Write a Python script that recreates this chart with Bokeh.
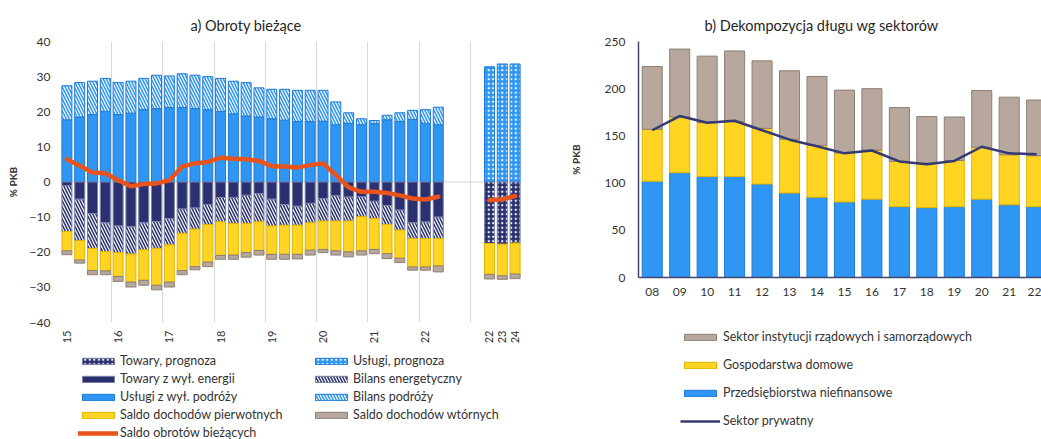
import numpy as np
from bokeh.plotting import figure
from bokeh.models import Legend, LegendItem, FixedTicker, Span, Range1d
from bokeh.layouts import row, column
from bokeh.embed import file_html
from bokeh.resources import INLINE

FONT = "Lato"
TXT = "#333333"

# ---------------- data: panel a) ----------------
quarters = ["2015Q1", "2015Q2", "2015Q3", "2015Q4", "2016Q1", "2016Q2", "2016Q3", "2016Q4",
            "2017Q1", "2017Q2", "2017Q3", "2017Q4", "2018Q1", "2018Q2", "2018Q3", "2018Q4",
            "2019Q1", "2019Q2", "2019Q3", "2019Q4", "2020Q1", "2020Q2", "2020Q3", "2020Q4",
            "2021Q1", "2021Q2", "2021Q3", "2021Q4", "2022Q1", "2022Q2"]
forecast_years = ["22", "23", "24"]

uslugi = [17.7, 18.5, 19.2, 20.1, 19.2, 19.6, 20.6, 20.9, 21.2, 21.2, 20.9, 20.6, 20.1, 19.4, 18.8,
          18.5, 18.0, 17.6, 17.2, 17.2, 17.3, 16.3, 16.7, 16.3, 16.6, 17.7, 17.2, 17.8, 16.7, 16.3]
bilans_podrozy = [9.7, 9.8, 9.5, 9.4, 9.1, 9.1, 8.9, 9.5, 9.0, 9.6, 9.5, 9.4, 9.4, 9.3, 9.5,
                  8.3, 8.4, 8.8, 8.9, 8.9, 8.8, 6.5, 3.0, 1.7, 0.9, 1.3, 2.5, 2.6, 3.9, 5.0]
towary = [-1.1, -4.9, -9.0, -11.6, -12.5, -12.7, -11.6, -11.3, -10.4, -7.7, -7.4, -6.4, -4.4, -4.4, -3.8,
          -3.3, -4.9, -6.4, -6.9, -6.1, -4.7, -3.9, -4.3, -4.2, -5.5, -6.7, -8.0, -11.6, -11.4, -10.0]
bilans_energ = [-13.0, -11.8, -9.9, -8.2, -7.6, -7.8, -7.7, -7.6, -7.5, -6.9, -6.0, -5.7, -6.9, -7.4, -8.0,
                -8.0, -7.6, -5.9, -5.4, -5.5, -6.4, -7.2, -6.8, -5.7, -4.9, -5.4, -5.7, -4.5, -4.7, -6.1]
doch_pierw = [-5.5, -5.5, -6.3, -5.5, -6.8, -8.0, -8.7, -10.5, -10.6, -10.6, -10.7, -10.7, -9.6, -9.0, -8.3,
              -8.2, -8.1, -8.3, -8.3, -7.8, -8.1, -8.5, -8.8, -9.7, -8.8, -8.3, -8.0, -8.1, -8.1, -7.8]
doch_wtor = [-1.1, -0.9, -1.2, -1.1, -1.4, -1.4, -1.4, -1.3, -1.4, -1.2, -0.9, -1.3, -1.1, -1.2, -1.3,
             -1.3, -1.4, -1.4, -1.3, -1.4, -0.9, -1.2, -1.4, -1.2, -1.2, -1.4, -1.2, -0.9, -0.9, -1.7]
saldo = [6.5, 4.6, 2.7, 2.5, 0.5, -1.2, -0.6, -0.4, 0.5, 4.4, 5.3, 5.7, 6.9, 6.6, 6.5,
         6.0, 4.5, 4.4, 4.1, 4.8, 5.3, 2.0, -1.5, -2.8, -2.8, -3.1, -3.8, -4.7, -5.0, -4.2]

uslugi_prog = [32.8, 33.6, 33.6]
towary_prog = [-17.5, -17.7, -17.4]
doch_pierw_prog = [-8.8, -9.0, -8.8]
doch_wtor_prog = [-1.3, -1.0, -1.3]
saldo_prog = [-5.2, -4.9, -4.0]

# ---------------- data: panel b) ----------------
years_b = ["08", "09", "10", "11", "12", "13", "14", "15", "16", "17", "18", "19", "20", "21", "22"]
przedsiebiorstwa = [102, 111, 107, 107, 99, 89.5, 85, 80, 83, 75, 74, 75, 83, 77, 75]
gospodarstwa = [55, 59, 57, 58, 59, 57, 55, 52, 52, 48, 47, 49, 55, 53, 54]
rzadowy = [66.5, 72, 70.5, 75, 71.5, 72.5, 73, 66.5, 65, 57, 49.5, 46, 60, 61, 59]
prywatny = [156, 171, 164, 166, 156, 146, 139, 131.5, 134.5, 123, 120, 123.5, 138.5, 131.5, 130.5]

# ---------------- styles ----------------
BLUE, BLUE_E = "#2F97F3", "#1F7AD6"
NAVY, NAVY_E = "#2B3170", "#7A80A8"
YEL, YEL_E = "#FFD422", "#E2B400"
TAUPE, TAUPE_E = "#B7A79D", "#8C7F76"
ORANGE = "#E8541C"
LINE_B = "#353A72"

HATCH = dict(hatch_pattern="left_diagonal_line", hatch_color="white", hatch_scale=6, hatch_weight=1.2)
DOTS = dict(hatch_pattern="dot", hatch_color="white", hatch_scale=4.5, hatch_weight=1.5)
S_BLUE = dict(fill_color=BLUE, line_color=BLUE_E, line_width=1)
S_NAVY = dict(fill_color=NAVY, line_color=NAVY_E, line_width=1)
S_YEL = dict(fill_color=YEL, line_color=YEL_E, line_width=1)
S_TAUPE = dict(fill_color=TAUPE, line_color=TAUPE_E, line_width=1)
S_SALDO = dict(line_color=ORANGE, line_width=4.5, line_join="round", line_cap="round")
S_PRYW = dict(line_color=LINE_B, line_width=2.5, line_join="round")


def style_axes(p):
    for ax in (p.xaxis[0], p.yaxis[0]):
        ax.major_tick_line_color = None
        ax.minor_tick_line_color = None
        ax.major_tick_out = 0
        ax.major_tick_in = 0
        ax.minor_tick_out = 0
        ax.minor_tick_in = 0
        ax.major_label_text_font = FONT
        ax.major_label_text_font_size = "12px"
        ax.major_label_text_color = TXT
        ax.axis_label_text_font = FONT
        ax.axis_label_text_font_style = "bold"
        ax.axis_label_text_font_size = "10px"
        ax.axis_label_text_color = TXT


def style_title(p, text, offset):
    p.title.text = text
    p.title.align = "left"
    p.title.offset = offset
    p.title.text_font = FONT
    p.title.text_font_size = "14.5px"
    p.title.text_font_style = "normal"
    p.title.text_color = "#262626"
    p.title.standoff = 15


def legend_fig(width, height, left, right):
    f = figure(width=width, height=height, min_border_left=left, min_border_right=right,
               min_border_top=0, min_border_bottom=0, title=None,
               x_range=Range1d(0, 1), y_range=Range1d(0, 1), x_axis_type=None, y_axis_type=None,
               output_backend="svg", toolbar_location=None)
    f.outline_line_color = None
    f.grid.visible = False
    return f


LEG = dict(padding=0, margin=0, glyph_width=40, glyph_height=8, label_height=14,
           border_line_color=None, background_fill_alpha=0,
           label_text_font=FONT, label_text_font_size="12.5px", label_text_color=TXT)

# ================= panel a =================
xq = np.arange(len(quarters))
xf = len(quarters) + 3 + np.arange(len(forecast_years))
W = 0.78

p1 = figure(frame_width=461, frame_height=281, min_border_left=60, min_border_right=39,
            min_border_top=41, min_border_bottom=22,
            x_range=Range1d(-0.5, 35.5), y_range=Range1d(-40, 40),
            output_backend="svg", toolbar_location=None)
p1.outline_line_color = None
p1.ygrid.visible = False
p1.xgrid.ticker = FixedTicker(ticks=[-0.5 + 4 * k for k in range(10)])
p1.xgrid.grid_line_color = "#D9D9D9"
p1.add_layout(Span(location=0, dimension="width", line_color="#D0D0D0", line_width=1, level="underlay"))

u = np.array(uslugi); bp = np.array(bilans_podrozy)
t = np.array(towary); be = np.array(bilans_energ)
dp = np.array(doch_pierw); dw = np.array(doch_wtor)

p1.vbar(x=xq, bottom=0, top=u, width=W, **S_BLUE)
p1.vbar(x=xq, bottom=u, top=u + bp, width=W, **S_BLUE, **HATCH)
p1.vbar(x=xq, top=0, bottom=t, width=W, **S_NAVY)
p1.vbar(x=xq, top=t, bottom=t + be, width=W, **S_NAVY, **HATCH)
p1.vbar(x=xq, top=t + be, bottom=t + be + dp, width=W, **S_YEL)
p1.vbar(x=xq, top=t + be + dp, bottom=t + be + dp + dw, width=W, **S_TAUPE)

up = np.array(uslugi_prog); tp = np.array(towary_prog)
dpp = np.array(doch_pierw_prog); dwp = np.array(doch_wtor_prog)
p1.vbar(x=xf, bottom=0, top=up, width=W, **S_BLUE, **DOTS)
p1.vbar(x=xf, top=0, bottom=tp, width=W, **S_NAVY, **DOTS)
p1.vbar(x=xf, top=tp, bottom=tp + dpp, width=W, **S_YEL)
p1.vbar(x=xf, top=tp + dpp, bottom=tp + dpp + dwp, width=W, **S_TAUPE)

p1.line(xq, saldo, **S_SALDO)
p1.line(xf, saldo_prog, **S_SALDO)

style_axes(p1)
tick_pos = [int(i) for i, q in zip(xq, quarters) if q.endswith("Q1")] + [int(v) for v in xf]
tick_lab = [q[2:4] for q in quarters if q.endswith("Q1")] + forecast_years
p1.xaxis.ticker = FixedTicker(ticks=tick_pos)
p1.xaxis.major_label_overrides = {k: v for k, v in zip(tick_pos, tick_lab)}
p1.xaxis.major_label_orientation = np.pi / 2
p1.xaxis.axis_line_color = None
p1.xaxis.major_label_standoff = 8
p1.xaxis.major_label_text_font_size = "11px"
p1.yaxis.ticker = FixedTicker(ticks=list(range(-40, 41, 10)))
p1.yaxis.axis_line_color = None
p1.yaxis.major_label_standoff = 10
p1.yaxis.axis_label = "% PKB"
p1.yaxis.axis_label_standoff = 8
style_title(p1, "a) Obroty bieżące", 130)

# legend of panel a: own figure, proxies styled like the bars (one hidden NaN row each)
l1 = legend_fig(560, 95, 60, 39)
e = dict(x=[np.nan], top=[np.nan], bottom=[np.nan], width=W)
ln = dict(x=[np.nan], y=[np.nan])
items1 = [
    LegendItem(label="Towary, prognoza", renderers=[l1.vbar(**e, **S_NAVY, **DOTS)]),
    LegendItem(label="Towary z wył. energii", renderers=[l1.vbar(**e, **S_NAVY)]),
    LegendItem(label="Usługi z wył. podróży", renderers=[l1.vbar(**e, **S_BLUE)]),
    LegendItem(label="Saldo dochodów pierwotnych", renderers=[l1.vbar(**e, **S_YEL)]),
    LegendItem(label="Saldo obrotów bieżących", renderers=[l1.line(**ln, **S_SALDO)]),
    LegendItem(label="Usługi, prognoza", renderers=[l1.vbar(**e, **S_BLUE, **DOTS)]),
    LegendItem(label="Bilans energetyczny", renderers=[l1.vbar(**e, **S_NAVY, **HATCH)]),
    LegendItem(label="Bilans podróży", renderers=[l1.vbar(**e, **S_BLUE, **HATCH)]),
    LegendItem(label="Saldo dochodów wtórnych", renderers=[l1.vbar(**e, **S_TAUPE)]),
]
l1.add_layout(Legend(items=items1, location=(18, 1), ncols=2, label_standoff=2,
                     spacing=3, label_width=188, **LEG), "center")

# ================= panel b =================
xb = np.arange(len(years_b))
WB = 0.73
pr = np.array(przedsiebiorstwa); go = np.array(gospodarstwa); rz = np.array(rzadowy)

p2 = figure(frame_width=403, frame_height=236, min_border_left=78, min_border_right=0,
            min_border_top=41, min_border_bottom=52,
            x_range=Range1d(-0.5, 14.176), y_range=Range1d(0, 250),
            output_backend="svg", toolbar_location=None)
p2.outline_line_color = None
p2.xgrid.visible = False
p2.ygrid.visible = False

p2.vbar(x=xb, bottom=0, top=pr, width=WB, **S_BLUE)
p2.vbar(x=xb, bottom=pr, top=pr + go, width=WB, **S_YEL)
p2.vbar(x=xb, bottom=pr + go, top=pr + go + rz, width=WB, **S_TAUPE)
p2.line(xb, prywatny, **S_PRYW)

style_axes(p2)
p2.xaxis.ticker = FixedTicker(ticks=[int(v) for v in xb])
p2.xaxis.major_label_overrides = {int(k): v for k, v in zip(xb, years_b)}
p2.xaxis.axis_line_color = "#40466E"
p2.xaxis.axis_line_width = 1.5
p2.xaxis.major_label_standoff = 10
p2.yaxis.ticker = FixedTicker(ticks=list(range(0, 251, 50)))
p2.yaxis.axis_line_color = "#40466E"
p2.yaxis.axis_line_width = 1.5
p2.yaxis.major_label_standoff = 13
p2.yaxis.axis_label = "% PKB"
p2.yaxis.axis_label_standoff = 20
style_title(p2, "b) Dekompozycja długu wg sektorów", 66)

l2 = legend_fig(481, 110, 78, 0)
e2 = dict(x=[np.nan], top=[np.nan], bottom=[np.nan], width=WB)
items2 = [
    LegendItem(label="Sektor instytucji rządowych i samorządowych", renderers=[l2.vbar(**e2, **S_TAUPE)]),
    LegendItem(label="Gospodarstwa domowe", renderers=[l2.vbar(**e2, **S_YEL)]),
    LegendItem(label="Przedsiębiorstwa niefinansowe", renderers=[l2.vbar(**e2, **S_BLUE)]),
    LegendItem(label="Sektor prywatny", renderers=[l2.line(**ln, **S_PRYW)]),
]
l2.add_layout(Legend(items=items2, location=(42, 11), label_standoff=3,
                     spacing=13, **LEG), "center")

layout = row(column(p1, l1), column(p2, l2))
open("out.html", "w").write(file_html(layout, INLINE))
